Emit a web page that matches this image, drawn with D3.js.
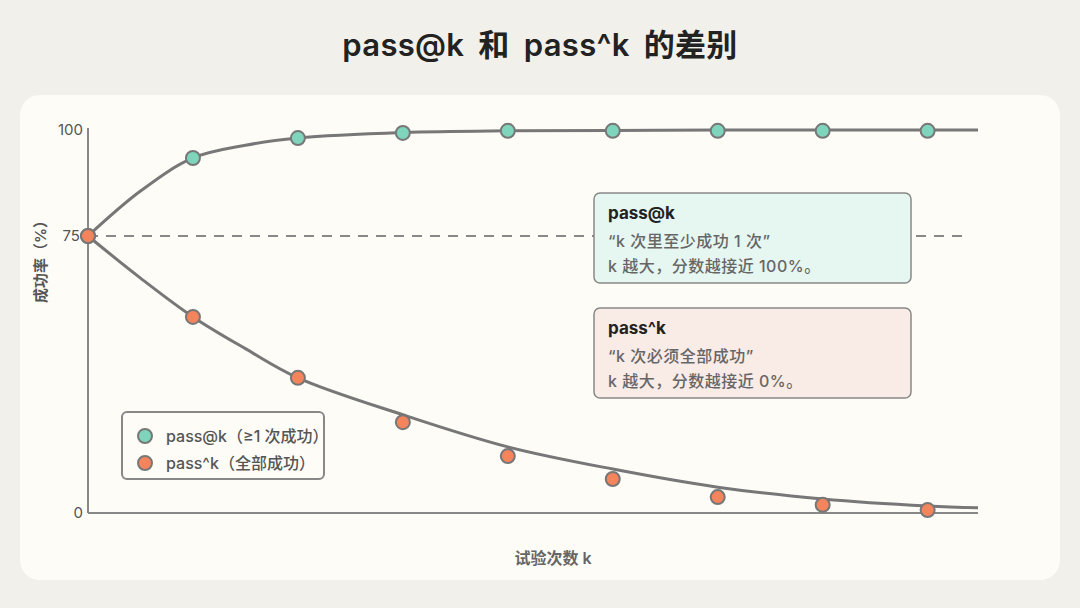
<!DOCTYPE html>
<html>
<head>
<meta charset="utf-8">
<script src="https://cdn.jsdelivr.net/npm/d3@7"></script>
<style>
  html, body { margin: 0; padding: 0; background: #f2f0ea; }
  svg { display: block; font-family: "Inter", "Noto Sans CJK SC", sans-serif; }
</style>
</head>
<body>
<div id="chart"></div>
<script>
// Data______________________________________________
const kValues = [1, 2, 3, 4, 5, 6, 7, 8, 9];
const passAtK = [75, 93.4, 98.1, 99.3, 99.8, 99.8, 99.8, 99.8, 99.8];
const passPowK = [75, 53.1, 36.6, 24.6, 15.4, 9.2, 4.3, 2.2, 0.8];

// smooth trend lines
const curveK = [1, 1.5, 2, 2.5, 3, 4, 5, 6, 7, 8, 9, 9.48];
const curveAt = [75, 85.6, 93.4, 96.4, 98.1, 99.4, 99.8, 99.9, 100, 100, 100, 100];
const curvePow = [75, 63.6, 53.1, 44.5, 36.6, 26.6, 17.9, 11.9, 7.0, 3.8, 1.9, 1.4];

const yTicks = [0, 75, 100];
const title = 'pass@k 和 pass^k 的差别';
const xLabel = '试验次数 k';
const yLabel = '成功率（%）';
const legendLabels = ['pass@k（≥1 次成功）', 'pass^k（全部成功）'];
const notes = [
    ['pass@k', '“k 次里至少成功 1 次”', 'k 越大，分数越接近 100%。'],
    ['pass^k', '“k 次必须全部成功”', 'k 越大，分数越接近 0%。']
];

// Settings__________________________________________
const width = 1080;
const height = 608;
const colors = ['#7fd4bc', '#f4845c'];
const noteFills = ['#e6f6f1', '#f9ebe6'];
const lineColor = '#777';

const svg = d3.select('#chart')
    .append('svg')
    .attr('width', width)
    .attr('height', height);

// card
svg.append('rect')
    .attr('x', 20).attr('y', 95)
    .attr('width', 1040).attr('height', 485)
    .attr('rx', 20)
    .attr('fill', '#fdfcf7');

svg.append('text')
    .attr('x', 540).attr('y', 56)
    .attr('text-anchor', 'middle')
    .attr('font-size', 31)
    .attr('font-weight', 600)
    .attr('word-spacing', 6)
    .attr('letter-spacing', 0.3)
    .attr('fill', '#222')
    .text(title);

// Scales____________________________________________
const xScale = d3.scaleLinear()
    .domain([1, 9.48])
    .range([88, 978]);
const yScale = d3.scaleLinear()
    .domain([0, 75, 100])
    .range([513, 236, 130]);

// Axes______________________________________________
svg.append('line')
    .attr('x1', xScale(1)).attr('x2', xScale(1))
    .attr('y1', yScale(100) - 2).attr('y2', yScale(0))
    .attr('stroke', '#888').attr('stroke-width', 2);
svg.append('line')
    .attr('x1', xScale(1)).attr('x2', xScale(9.48))
    .attr('y1', yScale(0)).attr('y2', yScale(0))
    .attr('stroke', '#888').attr('stroke-width', 2);

svg.selectAll('.ytick')
    .data(yTicks)
    .enter()
    .append('text')
    .attr('class', 'ytick')
    .attr('x', d => d === 75 ? 80 : 83)
    .attr('y', d => yScale(d))
    .attr('dy', '.35em')
    .attr('text-anchor', 'end')
    .attr('font-size', 15)
    .attr('fill', '#555')
    .text(d => d);

// reference line at 75
svg.append('line')
    .attr('x1', xScale(1)).attr('x2', 968)
    .attr('y1', yScale(75)).attr('y2', yScale(75))
    .attr('stroke', '#888')
    .attr('stroke-width', 2)
    .attr('stroke-dasharray', '10,8');

svg.append('text')
    .attr('transform', 'translate(46, 258) rotate(-90)')
    .attr('text-anchor', 'middle')
    .attr('font-size', 15)
    .attr('font-weight', 600)
    .attr('fill', '#555')
    .text(yLabel);

svg.append('text')
    .attr('x', 553).attr('y', 564)
    .attr('text-anchor', 'middle')
    .attr('font-size', 16)
    .attr('font-weight', 600)
    .attr('fill', '#666')
    .text(xLabel);

// Curves____________________________________________
const line = d3.line()
    .x(d => xScale(d[0]))
    .y(d => yScale(d[1]))
    .curve(d3.curveCatmullRom.alpha(0.5));

[curveAt, curvePow].forEach(vals => {
    svg.append('path')
        .datum(curveK.map((k, i) => [k, vals[i]]))
        .attr('d', line)
        .attr('fill', 'none')
        .attr('stroke', lineColor)
        .attr('stroke-width', 3);
});

// Points____________________________________________
[passAtK, passPowK].forEach((vals, s) => {
    svg.selectAll('.dot' + s)
        .data(kValues.map((k, i) => [k, vals[i]]))
        .enter()
        .append('circle')
        .attr('class', 'dot' + s)
        .attr('cx', d => xScale(d[0]))
        .attr('cy', d => yScale(d[1]))
        .attr('r', 7)
        .attr('fill', colors[s])
        .attr('stroke', lineColor)
        .attr('stroke-width', 2);
});

// Notes_____________________________________________
notes.forEach((n, i) => {
    const g = svg.append('g')
        .attr('transform', `translate(594, ${193 + i * 115})`);
    g.append('rect')
        .attr('width', 317).attr('height', 90)
        .attr('rx', 6)
        .attr('fill', noteFills[i])
        .attr('stroke', '#888')
        .attr('stroke-width', 1.5);
    g.selectAll('text')
        .data(n)
        .enter()
        .append('text')
        .attr('x', 14)
        .attr('y', (d, j) => j === 0 ? 26 : 29 + j * 25)
        .attr('font-size', (d, j) => j === 0 ? 17 : 16)
        .attr('font-weight', (d, j) => j === 0 ? 700 : 500)
        .attr('letter-spacing', (d, j) => j === 0 ? 0 : 0.5)
        .attr('fill', (d, j) => j === 0 ? '#222' : '#666')
        .text(d => d);
});

// Legend____________________________________________
const legend = svg.append('g')
    .attr('transform', 'translate(122, 412)');

legend.append('rect')
    .attr('width', 202).attr('height', 67)
    .attr('rx', 5)
    .attr('fill', '#fdfcf7')
    .attr('stroke', '#888')
    .attr('stroke-width', 2);

legend.selectAll('circle')
    .data(colors)
    .enter()
    .append('circle')
    .attr('cx', 23)
    .attr('cy', (d, i) => 24 + i * 27)
    .attr('r', 7)
    .attr('fill', d => d)
    .attr('stroke', lineColor)
    .attr('stroke-width', 2);

legend.selectAll('text')
    .data(legendLabels)
    .enter()
    .append('text')
    .attr('x', 44)
    .attr('y', (d, i) => 24 + i * 27)
    .attr('dy', '.35em')
    .attr('font-size', 16)
    .attr('font-weight', 500)
    .attr('fill', '#555')
    .text(d => d);
</script>
</body>
</html>
